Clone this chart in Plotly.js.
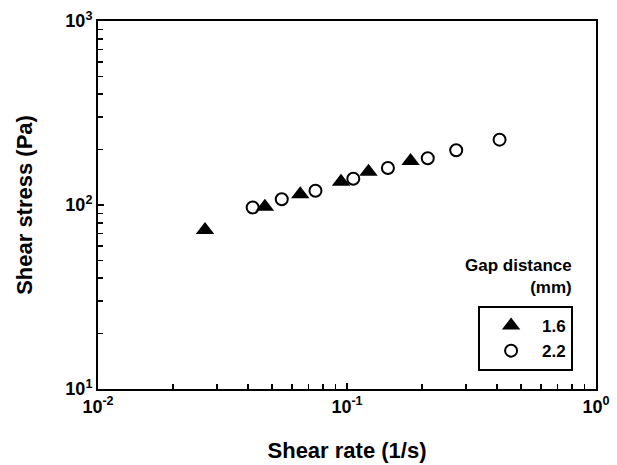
<!DOCTYPE html>
<html>
<head>
<meta charset="utf-8">
<script src="https://cdn.plot.ly/plotly-3.0.1.min.js"></script>
<style>html,body{margin:0;padding:0;background:#fff;}#chart{width:617px;height:465px;}</style>
</head>
<body>
<div id="chart"></div>
<script>
// Gap distance 1.6 mm
const rate16 = [0.0269, 0.0468, 0.0649, 0.0946, 0.122, 0.180];
const stress16 = [73.1, 97.9, 114.3, 133.9, 151.7, 173.4];
// Gap distance 2.2 mm
const rate22 = [0.0418, 0.0547, 0.0747, 0.106, 0.146, 0.211, 0.2745, 0.410];
const stress22 = [97.0, 107.4, 119.6, 139.0, 158.9, 179.4, 198.3, 226.5];

const seriesNames = ['1.6', '2.2'];
const xTickVals = [0.01, 0.1, 1];
const xTickText = ['10<sup>-2</sup>', '10<sup>-1</sup>', '10<sup>0</sup>'];
const yTickVals = [10, 100, 1000];
const yTickText = ['10<sup>1</sup>', '10<sup>2</sup>', '10<sup>3</sup>'];
const xMinor = [0.02,0.03,0.04,0.05,0.06,0.07,0.08,0.09,0.2,0.3,0.4,0.5,0.6,0.7,0.8,0.9];
const yMinor = [20,30,40,50,60,70,80,90,200,300,400,500,600,700,800,900];

const FONT = 'Liberation Sans, Arial, sans-serif';

const traces = [
  {x: rate16, y: stress16, name: seriesNames[0], mode: 'markers', type: 'scatter',
   marker: {symbol: 'triangle-up', size: 16, color: '#000', line: {width: 0}}},
  {x: rate22, y: stress22, name: seriesNames[1], mode: 'markers', type: 'scatter',
   marker: {symbol: 'circle-open', size: 12, color: '#000', line: {width: 2, color: '#000'}}}
];

const layout = {
  width: 617, height: 465,
  margin: {l: 98, r: 21, t: 21, b: 76},
  paper_bgcolor: '#fff', plot_bgcolor: '#fff',
  font: {family: FONT, color: '#000', size: 16, weight: 'bold'},
  showlegend: true,
  xaxis: {
    type: 'log', range: [-2, 0],
    tickmode: 'array', tickvals: xTickVals, ticktext: xTickText,
    ticks: 'inside', ticklen: 6, tickwidth: 1.5, tickcolor: '#000',
    minor: {tickmode: 'array', tickvals: xMinor, ticks: 'inside', ticklen: 5, tickwidth: 1.5, tickcolor: '#000'},
    showline: true, linecolor: '#000', linewidth: 2, mirror: true,
    showgrid: false, zeroline: false,
    tickfont: {family: FONT, size: 18, weight: 'bold', color: '#000'},
    title: {text: 'Shear rate (1/s)', font: {family: FONT, size: 22, weight: 'bold', color: '#000'}, standoff: 27}
  },
  yaxis: {
    type: 'log', range: [1, 3],
    tickmode: 'array', tickvals: yTickVals, ticktext: yTickText,
    ticks: 'inside', ticklen: 6, tickwidth: 1.5, tickcolor: '#000',
    minor: {tickmode: 'array', tickvals: yMinor, ticks: 'inside', ticklen: 5, tickwidth: 1.5, tickcolor: '#000'},
    showline: true, linecolor: '#000', linewidth: 2, mirror: true,
    showgrid: false, zeroline: false,
    tickfont: {family: FONT, size: 18, weight: 'bold', color: '#000'},
    title: {text: 'Shear stress (Pa)', font: {family: FONT, size: 22, weight: 'bold', color: '#000'}, standoff: 27}
  },
  legend: {
    x: 0.954, y: 0.2255, xanchor: 'right', yanchor: 'top',
    bordercolor: '#000', borderwidth: 2, bgcolor: '#fff',
    font: {family: FONT, size: 17, weight: 'bold', color: '#000'},
    itemwidth: 52, tracegroupgap: 0
  },
  annotations: [{
    xref: 'paper', yref: 'paper', x: 0.956, y: 0.245, xanchor: 'right', yanchor: 'bottom',
    align: 'right', showarrow: false,
    text: 'Gap distance<br>(mm)',
    font: {family: FONT, size: 17, weight: 'bold', color: '#000'}
  }]
};

Plotly.newPlot('chart', traces, layout, {displayModeBar: false, staticPlot: true});
</script>
</body>
</html>
